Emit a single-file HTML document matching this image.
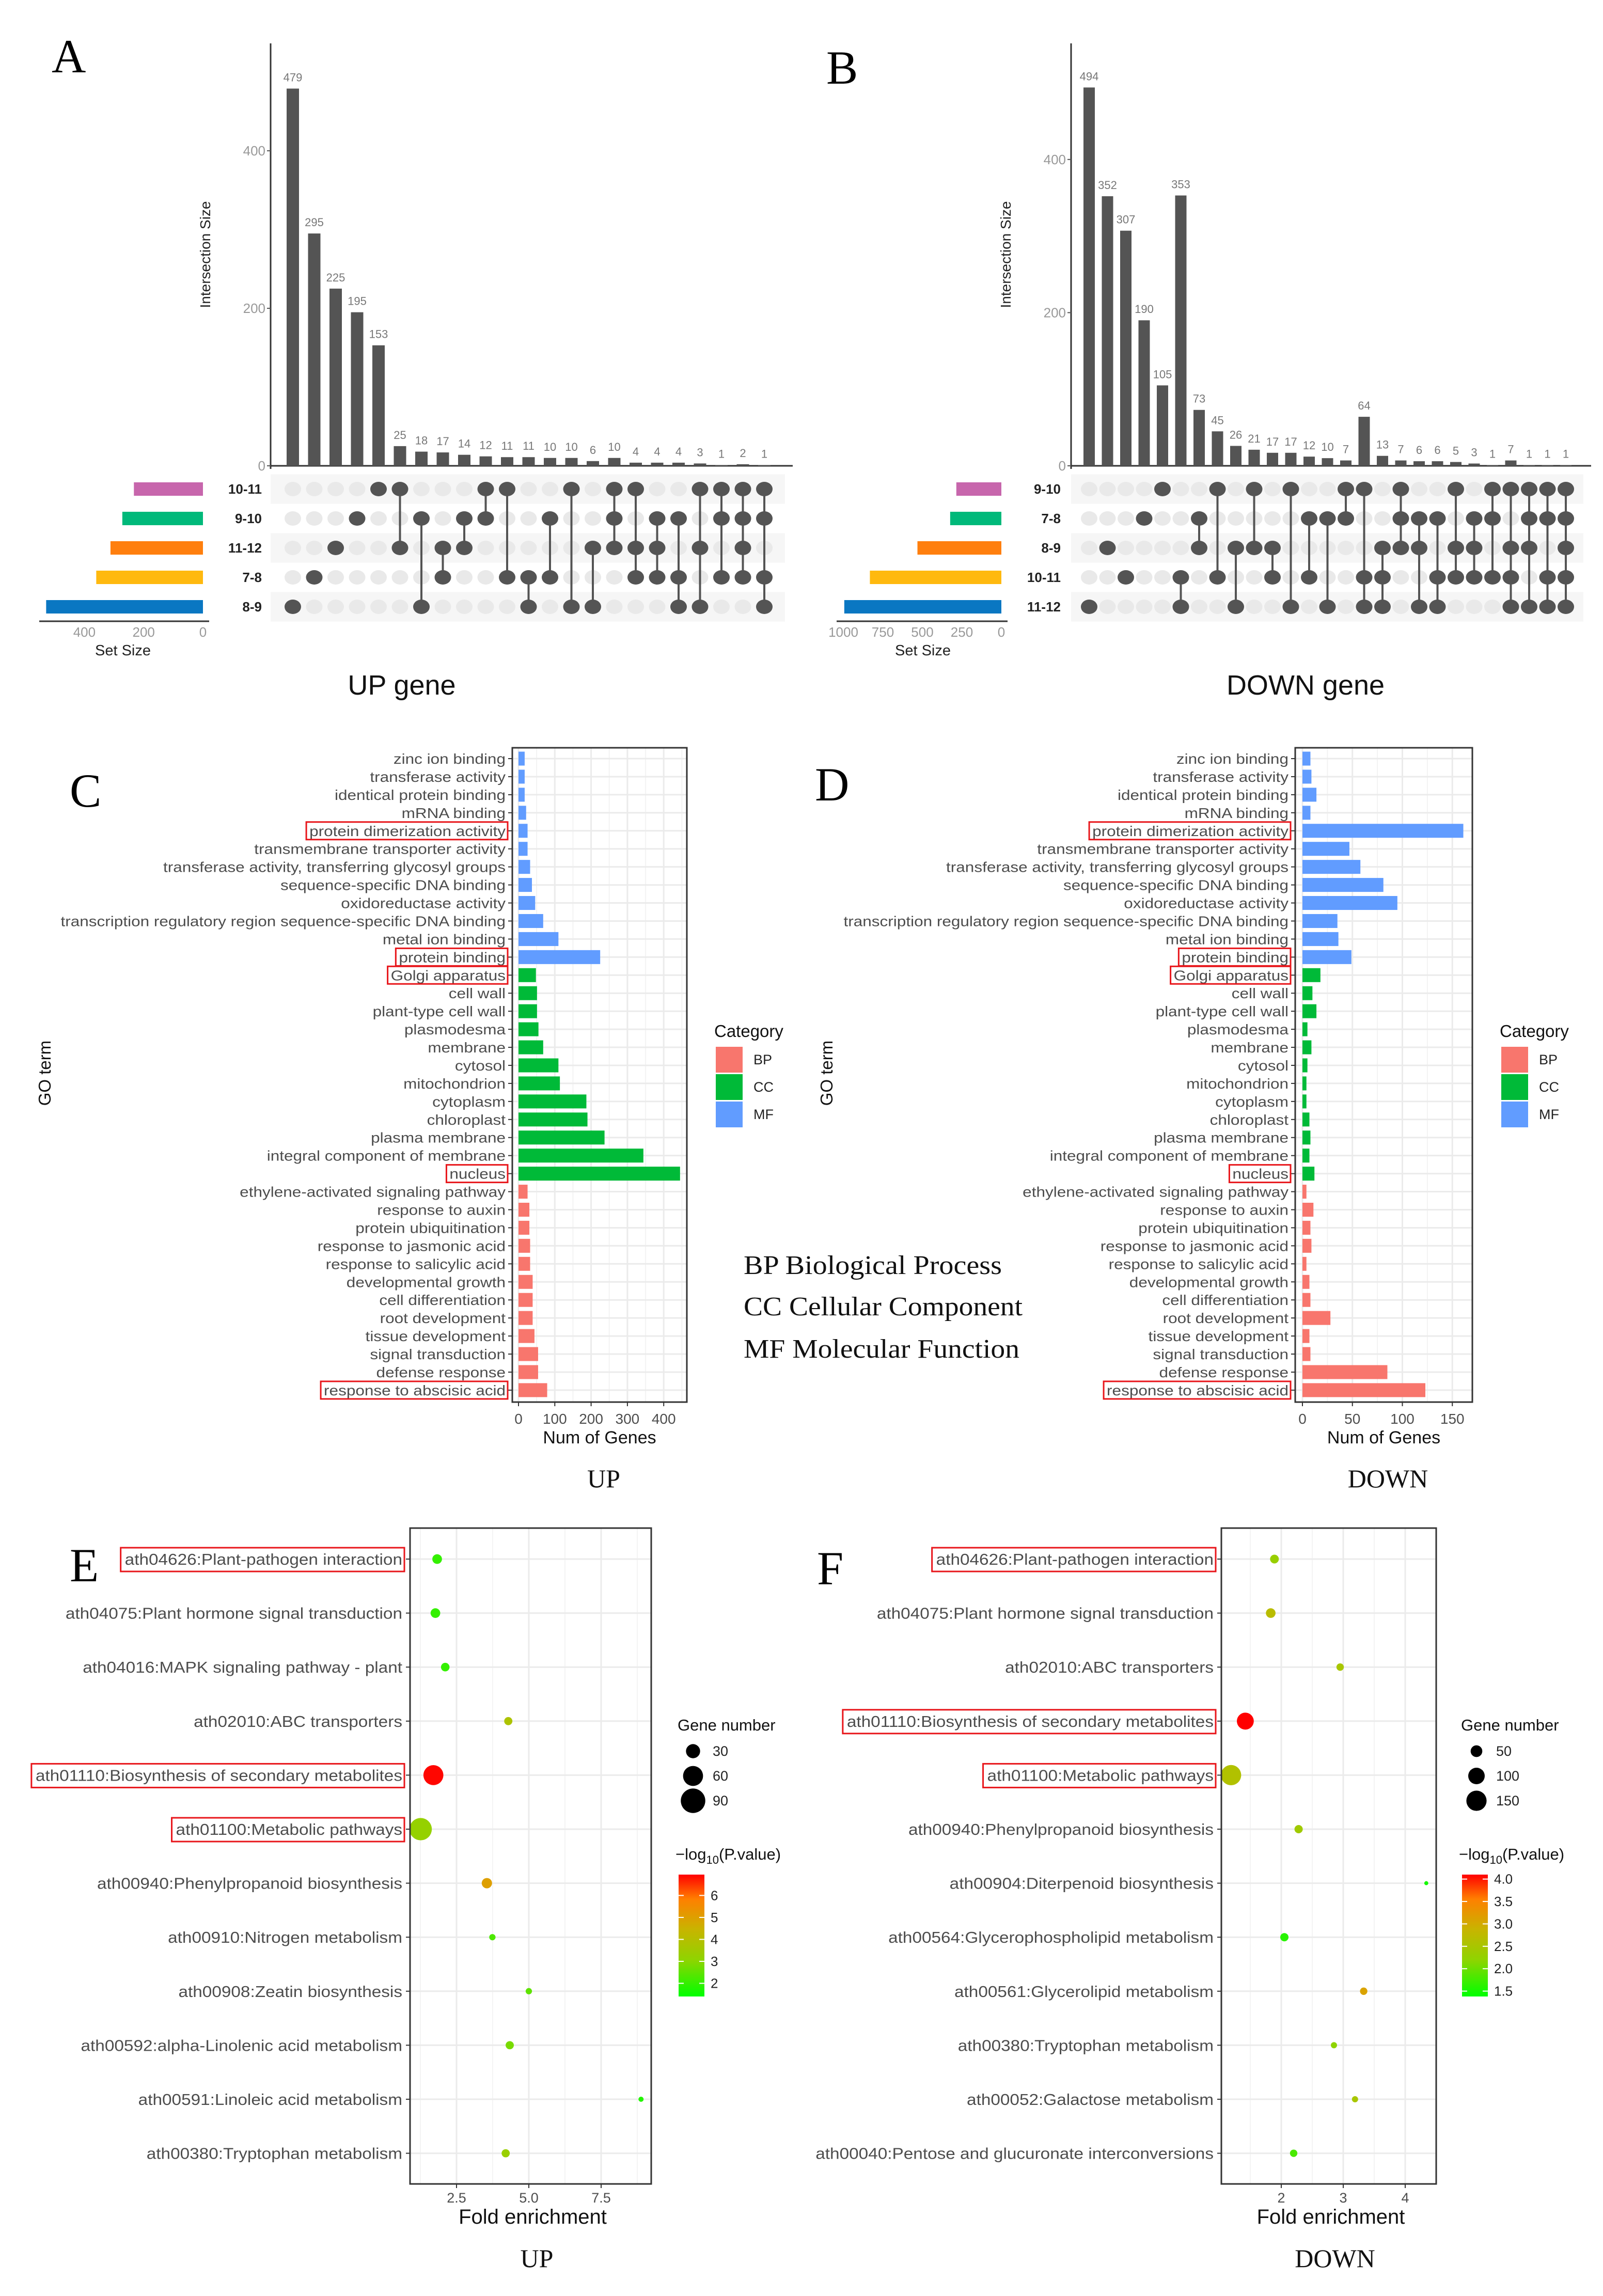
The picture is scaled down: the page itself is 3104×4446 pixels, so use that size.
<!DOCTYPE html>
<html><head><meta charset="utf-8"><style>
html,body{margin:0;padding:0;background:#fff;}
svg{display:block;font-family:"Liberation Sans",Arial,sans-serif;}
</style></head><body>
<svg id="fig" xmlns="http://www.w3.org/2000/svg" width="3104" height="4446" viewBox="0 0 3104 4446">
<defs>
<linearGradient id="gradE" x1="0" y1="1" x2="0" y2="0">
<stop offset="0" stop-color="#00ff00"/><stop offset="0.3" stop-color="#8fd400"/><stop offset="0.55" stop-color="#c8b400"/><stop offset="0.8" stop-color="#ff7f00"/><stop offset="1" stop-color="#ff0000"/>
</linearGradient>
</defs>
<rect x="0" y="0" width="3104" height="4446" fill="#fff"/>
<g id="root"></g>
</svg>
<script>
// ===== Panel A (UpSet UP) data =====
const upSetsA = ["10-11","9-10","11-12","7-8","8-9"];
const upSetSizesA = [233,272,312,360,529];
const upCountsA = [479,295,225,195,153,25,18,17,14,12,11,11,10,10,6,10,4,4,4,3,1,2,1];
const upMembersA = [[4],[3],[2],[1],[0],[0,2],[1,4],[2,3],[1,2],[0,1],[0,3],[3,4],[1,3],[0,4],[2,4],[0,1,2],[0,2,3],[1,2,3],[1,3,4],[0,2,4],[0,1,3],[0,1,2,3],[0,1,3,4]];
const upYTicksA = [0,200,400];
const upSetTicksA = [0,200,400];
// ===== Panel B (UpSet DOWN) data =====
const downSetsB = ["9-10","7-8","8-9","10-11","11-12"];
const downSetSizesB = [285,324,531,832,994];
const downCountsB = [494,352,307,190,105,353,73,45,26,21,17,17,12,10,7,64,13,7,6,6,5,3,1,7,1,1,1];
const downMembersB = [[4],[2],[3],[1],[0],[3,4],[1,2],[0,3],[2,4],[0,2],[2,3],[0,4],[1,3],[1,4],[0,1],[0,3,4],[2,3,4],[0,1,2],[1,2,4],[1,3,4],[0,2,3],[1,2,3],[0,1,3],[0,2,3,4],[0,1,2,4],[0,1,3,4],[0,1,2,3,4]];
const downYTicksB = [0,200,400];
const downSetTicksB = [0,250,500,750,1000];
// ===== GO terms (C, D) =====
const goTerms = ["zinc ion binding","transferase activity","identical protein binding","mRNA binding","protein dimerization activity","transmembrane transporter activity","transferase activity, transferring glycosyl groups","sequence-specific DNA binding","oxidoreductase activity","transcription regulatory region sequence-specific DNA binding","metal ion binding","protein binding","Golgi apparatus","cell wall","plant-type cell wall","plasmodesma","membrane","cytosol","mitochondrion","cytoplasm","chloroplast","plasma membrane","integral component of membrane","nucleus","ethylene-activated signaling pathway","response to auxin","protein ubiquitination","response to jasmonic acid","response to salicylic acid","developmental growth","cell differentiation","root development","tissue development","signal transduction","defense response","response to abscisic acid"];
const goCategory = ["MF","MF","MF","MF","MF","MF","MF","MF","MF","MF","MF","MF","CC","CC","CC","CC","CC","CC","CC","CC","CC","CC","CC","CC","BP","BP","BP","BP","BP","BP","BP","BP","BP","BP","BP","BP"];
const goHighlighted = ["protein dimerization activity","protein binding","Golgi apparatus","nucleus","response to abscisic acid"];
const goUpCounts = [17,17,17,21,25,25,32,37,46,68,110,225,48,51,51,55,68,110,114,187,190,237,344,445,25,30,30,32,32,39,39,39,44,54,54,79];
const goDownCounts = [8,9,14,8,161,47,58,81,95,35,36,49,18,10,14,5,9,5,4,4,7,8,7,12,4,11,8,9,4,7,8,28,7,8,85,123];
const goUpTicks = [0,100,200,300,400];
const goDownTicks = [0,50,100,150];
// ===== KEGG (E, F) =====
const keggUpTerms = ["ath04626:Plant-pathogen interaction","ath04075:Plant hormone signal transduction","ath04016:MAPK signaling pathway - plant","ath02010:ABC transporters","ath01110:Biosynthesis of secondary metabolites","ath01100:Metabolic pathways","ath00940:Phenylpropanoid biosynthesis","ath00910:Nitrogen metabolism","ath00908:Zeatin biosynthesis","ath00592:alpha-Linolenic acid metabolism","ath00591:Linoleic acid metabolism","ath00380:Tryptophan metabolism"];
const keggUpFold = [1.83,1.77,2.11,4.29,1.70,1.26,3.55,3.74,5.0,4.34,8.88,4.2];
const keggUpGenes = [14,14,11,10,60,75,16,6,6,10,4,10];
const keggUpLogP = [2.0,2.0,2.0,3.8,6.9,3.2,5.0,2.3,2.5,2.8,1.8,3.3];
const keggUpTicks = [2.5,5.0,7.5];
const keggUpSizeTicks = [30,60,90];
const keggUpColorTicks = [2,3,4,5,6];
const keggDownTerms = ["ath04626:Plant-pathogen interaction","ath04075:Plant hormone signal transduction","ath02010:ABC transporters","ath01110:Biosynthesis of secondary metabolites","ath01100:Metabolic pathways","ath00940:Phenylpropanoid biosynthesis","ath00904:Diterpenoid biosynthesis","ath00564:Glycerophospholipid metabolism","ath00561:Glycerolipid metabolism","ath00380:Tryptophan metabolism","ath00052:Galactose metabolism","ath00040:Pentose and glucuronate interconversions"];
const keggDownFold = [1.89,1.83,2.95,1.42,1.19,2.28,4.34,2.05,3.33,2.85,3.19,2.2];
const keggDownGenes = [28,34,20,105,150,25,6,25,20,14,14,20];
const keggDownLogP = [2.3,2.7,2.5,4.1,2.6,2.4,1.5,1.6,3.1,2.2,2.5,1.8];
const keggDownTicks = [2,3,4];
const keggDownSizeTicks = [50,100,150];
const keggDownColorTicks = ["1.5","2.0","2.5","3.0","3.5","4.0"];
const keggHighlighted = ["ath04626:Plant-pathogen interaction","ath01110:Biosynthesis of secondary metabolites","ath01100:Metabolic pathways"];

const NS="http://www.w3.org/2000/svg";
const root=document.getElementById('root');
function mk(tag,attrs,parent){const e=document.createElementNS(NS,tag);for(const k in attrs)e.setAttribute(k,attrs[k]);(parent||root).appendChild(e);return e;}
function txt(s,attrs,parent){const e=mk('text',attrs,parent);e.textContent=s;return e;}
function stretch(e,f){const w=e.getComputedTextLength()*f;e.setAttribute('textLength',w);e.setAttribute('lengthAdjust','spacingAndGlyphs');return w;}
const setColors=["#c766ac","#00b97a","#ff7f0e","#ffb90f","#0a77c2"];
const catColor={BP:"#f8766d",CC:"#00ba38",MF:"#619cff"};
const stops=[[0,[0,255,0]],[0.3,[143,212,0]],[0.55,[200,180,0]],[0.8,[255,127,0]],[1,[255,0,0]]];
function grad(t){t=Math.max(0,Math.min(1,t));for(let i=1;i<stops.length;i++){if(t<=stops[i][0]){const a=stops[i-1],b=stops[i];const f=(t-a[0])/(b[0]-a[0]);const c=a[1].map((v,j)=>Math.round(v+(b[1][j]-v)*f));return `rgb(${c[0]},${c[1]},${c[2]})`;}}return 'rgb(255,0,0)';}

// ===== UpSet drawing =====
function upset(cfg){
  const g=mk('g',{});
  
  
  const yv=v=>cfg.base-v*cfg.ys;
  const xc=i=>cfg.x0+i*cfg.dx;
  for(let r=0;r<cfg.sets.length;r++){
    if(r%2===0){const s=mk('rect',{x:cfg.ax,y:cfg.rowY0+r*cfg.rowD-cfg.rowD/2,width:cfg.mEnd-cfg.ax,height:cfg.rowD,fill:'#f6f6f6'},g);
    
    }
  }
  const ya=mk('line',{x1:cfg.ax,y1:cfg.top,x2:cfg.ax,y2:cfg.base+6,stroke:'#333','stroke-width':3},g);
  
  
  const xa=mk('line',{x1:cfg.ax,y1:cfg.base,x2:cfg.mEnd+15,y2:cfg.base,stroke:'#333','stroke-width':3},g);
  
  
  cfg.yTicks.forEach(t=>{
    const tk=mk('line',{x1:cfg.ax-7,y1:yv(t),x2:cfg.ax,y2:yv(t),stroke:'#555','stroke-width':2},g);
    
    
    const tl=txt(String(t),{x:cfg.ax-10,y:yv(t)+9,'text-anchor':'end','font-size':26,fill:'#999'},g);
    
    
  });
  const yt=txt('Intersection Size',{x:0,y:0,'text-anchor':'middle','font-size':28,fill:'#222',transform:`translate(${cfg.ax-117},${(cfg.top+cfg.base)/2}) rotate(-90)`},g);
  
  
  cfg.counts.forEach((v,i)=>{
    const b=mk('rect',{x:xc(i)-cfg.bw/2,y:yv(v),width:cfg.bw,height:v*cfg.ys,fill:'#545454'},g);
    
    
    const l=txt(String(v),{x:xc(i),y:yv(v)-14,'text-anchor':'middle','font-size':22,fill:'#777'},g);
    
    
  });
  cfg.members.forEach((m,i)=>{
    for(let r=0;r<cfg.sets.length;r++){
      if(m.indexOf(r)<0){const d=mk('ellipse',{cx:xc(i),cy:cfg.rowY0+r*cfg.rowD,rx:16,ry:14,fill:'#e9e9e9'},g);
      
      }
    }
    const mn=Math.min(...m),mx=Math.max(...m);
    if(mx>mn){const ln=mk('line',{x1:xc(i),y1:cfg.rowY0+mn*cfg.rowD,x2:xc(i),y2:cfg.rowY0+mx*cfg.rowD,stroke:'#545454','stroke-width':4},g);
    
    }
    m.forEach(r=>{const d=mk('ellipse',{cx:xc(i),cy:cfg.rowY0+r*cfg.rowD,rx:16,ry:14,fill:'#545454'},g);
      
      });
  });
  cfg.sets.forEach((s,r)=>{
    const y=cfg.rowY0+r*cfg.rowD;
    const w=cfg.setSizes[r]*cfg.ss;
    const b=mk('rect',{x:cfg.s0-w,y:y-13,width:w,height:26,fill:setColors[r]},g);
    
    
    const l=txt(s,{x:cfg.nameX,y:y+9,'text-anchor':'end','font-size':26,'font-weight':'bold',fill:'#222'},g);
    
    
  });
  const sy=cfg.rowY0+4*cfg.rowD+28;
  const sa=mk('line',{x1:cfg.sAxL,y1:sy,x2:cfg.s0+12,y2:sy,stroke:'#333','stroke-width':3},g);
  
  
  cfg.setTicks.forEach(t=>{
    const tl=txt(String(t),{x:cfg.s0-t*cfg.ss,y:sy+30,'text-anchor':'middle','font-size':26,fill:'#999'},g);
    
    
  });
  const st=txt('Set Size',{x:cfg.setTitleX,y:sy+66,'text-anchor':'middle','font-size':29,fill:'#222'},g);
  
  
  const tt=txt(cfg.title,{x:cfg.titleX,y:1345,'text-anchor':'middle','font-size':54,fill:'#111'},g);
  
  
}
upset({name:'upset-up-chart',sets:upSetsA,setSizes:upSetSizesA,counts:upCountsA,members:upMembersA,yTicks:upYTicksA,setTicks:upSetTicksA,
  ax:524,top:84,base:902,ys:1.525,x0:567,dx:41.5,bw:24,mEnd:1520,rowY0:947,rowD:57,s0:393,ss:0.574,sAxL:76,nameX:507,setTitleX:238,title:'UP gene',titleX:778});
upset({name:'upset-down-chart',sets:downSetsB,setSizes:downSetSizesB,counts:downCountsB,members:downMembersB,yTicks:downYTicksB,setTicks:downSetTicksB,
  ax:2074,top:84,base:902,ys:1.483,x0:2109,dx:35.5,bw:22,mEnd:3066,rowY0:947,rowD:57,s0:1939,ss:0.306,sAxL:1620,nameX:2054,setTitleX:1787,title:'DOWN gene',titleX:2528});

// ===== GO bar chart =====
function goChart(cfg){
  const g=mk('g',{});
  
  
  const xv=v=>cfg.x0+v*cfg.xs;
  const yr=i=>cfg.y0+i*cfg.dy;
  const bg=mk('rect',{x:cfg.bx,y:cfg.by,width:cfg.bw,height:cfg.bh,fill:'#fff'},g);
  
  
  for(let k=0;k<cfg.ticks.length;k++){
    const t=cfg.ticks[k];
    const gl=mk('line',{x1:xv(t),y1:cfg.by,x2:xv(t),y2:cfg.by+cfg.bh,stroke:'#ebebeb','stroke-width':3},g);
    
    
    const step=cfg.ticks[1]-cfg.ticks[0];
    const mt=t+step/2;
    if(xv(mt)<cfg.bx+cfg.bw){const ml=mk('line',{x1:xv(mt),y1:cfg.by,x2:xv(mt),y2:cfg.by+cfg.bh,stroke:'#f3f3f3','stroke-width':2},g);
    
    }
  }
  goTerms.forEach((term,i)=>{
    const hl=mk('line',{x1:cfg.bx,y1:yr(i),x2:cfg.bx+cfg.bw,y2:yr(i),stroke:'#ebebeb','stroke-width':3},g);
    
    
  });
  goTerms.forEach((term,i)=>{
    const v=cfg.values[i];
    const b=mk('rect',{x:xv(0),y:yr(i)-13.5,width:v*cfg.xs,height:27,fill:catColor[goCategory[i]]},g);
    
    
    const tk=mk('line',{x1:cfg.bx-8,y1:yr(i),x2:cfg.bx,y2:yr(i),stroke:'#333','stroke-width':2},g);
    
    
    const l=txt(term,{x:cfg.bx-13,y:yr(i)+10,'text-anchor':'end','font-size':28,fill:'#4d4d4d'},g);
    
    
    const w=stretch(l,1.125);
    if(goHighlighted.indexOf(term)>=0){
      const r=mk('rect',{x:cfg.bx-13-w-6,y:yr(i)-17,width:w+10,height:34,fill:'none',stroke:'#e8161b','stroke-width':3},g);
      
      
    }
  });
  const bx=mk('rect',{x:cfg.bx,y:cfg.by,width:cfg.bw,height:cfg.bh,fill:'none',stroke:'#333','stroke-width':3},g);
  
  
  cfg.ticks.forEach(t=>{
    const tk=mk('line',{x1:xv(t),y1:cfg.by+cfg.bh,x2:xv(t),y2:cfg.by+cfg.bh+8,stroke:'#333','stroke-width':2},g);
    
    
    const tl=txt(String(t),{x:xv(t),y:cfg.by+cfg.bh+42,'text-anchor':'middle','font-size':28,fill:'#4d4d4d'},g);
    
    
  });
  const xt=txt('Num of Genes',{x:cfg.bx+cfg.bw/2,y:cfg.by+cfg.bh+80,'text-anchor':'middle','font-size':34,fill:'#111'},g);
  
  
  const yt=txt('GO term',{x:0,y:0,'text-anchor':'middle','font-size':33,fill:'#111',transform:`translate(${cfg.ytX},2078) rotate(-90)`},g);
  
  
  const pt=txt(cfg.title,{x:cfg.bx+cfg.bw/2+8,y:2880,'text-anchor':'middle','font-size':50,'font-family':'"Liberation Serif",serif',fill:'#111'},g);
  
  
  const lt=txt('Category',{x:cfg.lx,y:2008,'font-size':33,fill:'#111'},g);
  
  
  ["BP","CC","MF"].forEach((c,k)=>{
    const y=2052+k*53;
    const kr=mk('rect',{x:cfg.lx+3,y:y-25,width:52,height:50,fill:catColor[c]},g);
    
    
    const kl=txt(c,{x:cfg.lx+76,y:y+9,'font-size':27,fill:'#222'},g);
    
    
  });
}
goChart({name:'go-up-chart',values:goUpCounts,ticks:goUpTicks,x0:1004,xs:0.703,y0:1469,dy:34.94,bx:992,by:1448,bw:338,bh:1267,title:'UP',lx:1383,ytX:98});
goChart({name:'go-down-chart',values:goDownCounts,ticks:goDownTicks,x0:2522,xs:1.935,y0:1469,dy:34.94,bx:2508,by:1448,bw:343,bh:1267,title:'DOWN',lx:2904,ytX:1612});

// Category explanation text
[["BP  Biological Process",2451,500],["CC  Cellular Component",2531,540],["MF  Molecular Function",2613,534]].forEach(d=>{
  const t=txt(d[0],{x:1440,y:d[1]+16,'font-size':52,'font-family':'"Liberation Serif",serif',fill:'#111','xml:space':'preserve',textLength:d[2],lengthAdjust:'spacingAndGlyphs'});
  
  
});

// ===== KEGG bubble chart =====
function kegg(cfg){
  const g=mk('g',{});
  
  
  const xv=v=>cfg.px0+(v-cfg.v0)*cfg.xs;
  const yr=i=>cfg.y0+i*cfg.dy;
  const rad=n=>cfg.rk*Math.sqrt(n);
  const col=p=>grad((p-cfg.cmin)/(cfg.cmax-cfg.cmin));
  const step=cfg.ticks[1]-cfg.ticks[0];
  for(let t=cfg.ticks[0]-step*2;t<=cfg.ticks[cfg.ticks.length-1]+step*2;t+=step/2){
    const x=xv(t); if(x<=cfg.bx||x>=cfg.bx+cfg.bw) continue;
    const major=Math.abs(((t-cfg.ticks[0])/step)-Math.round((t-cfg.ticks[0])/step))<1e-6;
    const gl=mk('line',{x1:x,y1:cfg.by,x2:x,y2:cfg.by+cfg.bh,stroke:major?'#ebebeb':'#f4f4f4','stroke-width':major?3:2},g);
    
    
  }
  cfg.terms.forEach((term,i)=>{
    const hl=mk('line',{x1:cfg.bx,y1:yr(i),x2:cfg.bx+cfg.bw,y2:yr(i),stroke:'#ebebeb','stroke-width':3},g);
    
    
    const tk=mk('line',{x1:cfg.bx-8,y1:yr(i),x2:cfg.bx,y2:yr(i),stroke:'#333','stroke-width':2},g);
    
    
    const l=txt(term,{x:cfg.bx-15,y:yr(i)+11,'text-anchor':'end','font-size':31,fill:'#4d4d4d'},g);
    
    
    const w=stretch(l,1.075);
    if(keggHighlighted.indexOf(term)>=0){
      const r=mk('rect',{x:cfg.bx-15-w-8,y:yr(i)-22,width:w+12,height:46,fill:'none',stroke:'#e8161b','stroke-width':3},g);
      
      
    }
  });
  cfg.terms.forEach((term,i)=>{
    const c=mk('circle',{cx:xv(cfg.fold[i]),cy:yr(i),r:rad(cfg.genes[i]),fill:col(cfg.logp[i])},g);
    
    
  });
  const bx=mk('rect',{x:cfg.bx,y:cfg.by,width:cfg.bw,height:cfg.bh,fill:'none',stroke:'#333','stroke-width':3},g);
  
  
  cfg.ticks.forEach(t=>{
    const tk=mk('line',{x1:xv(t),y1:cfg.by+cfg.bh,x2:xv(t),y2:cfg.by+cfg.bh+8,stroke:'#333','stroke-width':2},g);
    
    
    const tl=txt(cfg.tickFmt(t),{x:xv(t),y:cfg.by+cfg.bh+36,'text-anchor':'middle','font-size':27,fill:'#4d4d4d'},g);
    
    
  });
  const xt=txt('Fold enrichment',{x:cfg.bx+cfg.bw/2+4,y:cfg.by+cfg.bh+77,'text-anchor':'middle','font-size':40,fill:'#111'},g);
  
  
  const pt=txt(cfg.title,{x:cfg.bx+cfg.bw/2+12,y:4390,'text-anchor':'middle','font-size':50,'font-family':'"Liberation Serif",serif',fill:'#111'},g);
  
  
  const st=txt('Gene number',{x:cfg.lx,y:3351,'font-size':31,fill:'#111'},g);
  
  
  cfg.sizeTicks.forEach((n,k)=>{
    const y=3391+k*48;
    const c=mk('circle',{cx:cfg.lx+30,cy:y,r:rad(n),fill:'#000'},g);
    
    
    const l=txt(String(n),{x:cfg.lx+68,y:y+9,'font-size':27,fill:'#222'},g);
    
    
  });
  const ct=txt('',{x:cfg.lx-4,y:3601,'font-size':31,fill:'#111'},g);
  ct.innerHTML='<tspan>\u2212log</tspan><tspan font-size="22" dy="8">10</tspan><tspan dy="-8">(P.value)</tspan>';
  
  
  const cbTop=3630,cbBot=3866;
  const cb=mk('rect',{x:cfg.lx+2,y:cbTop,width:50,height:cbBot-cbTop,fill:'url(#gradE)'},g);
  
  
  cfg.colorTicks.forEach(t=>{
    const v=parseFloat(t);
    const y=cbBot-(v-cfg.cmin)/(cfg.cmax-cfg.cmin)*(cbBot-cbTop);
    const a=mk('line',{x1:cfg.lx+2,y1:y,x2:cfg.lx+12,y2:y,stroke:'#fff','stroke-width':2},g);
    
    
    const b=mk('line',{x1:cfg.lx+42,y1:y,x2:cfg.lx+52,y2:y,stroke:'#fff','stroke-width':2},g);
    
    
    const l=txt(String(t),{x:cfg.lx+64,y:y+9,'font-size':26,fill:'#222'},g);
    
    
  });
}
kegg({name:'kegg-up-chart',terms:keggUpTerms,fold:keggUpFold,genes:keggUpGenes,logp:keggUpLogP,ticks:keggUpTicks,sizeTicks:keggUpSizeTicks,colorTicks:keggUpColorTicks,
  px0:884,v0:2.5,xs:56,y0:3019,dy:104.6,bx:794,by:2959,bw:467,bh:1270,rk:2.5,cmin:1.4,cmax:6.95,lx:1312,title:'UP',tickFmt:t=>t.toFixed(1)});
kegg({name:'kegg-down-chart',terms:keggDownTerms,fold:keggDownFold,genes:keggDownGenes,logp:keggDownLogP,ticks:keggDownTicks,sizeTicks:keggDownSizeTicks,colorTicks:keggDownColorTicks,
  px0:2481,v0:2,xs:120,y0:3019,dy:104.6,bx:2365,by:2959,bw:416,bh:1270,rk:1.6,cmin:1.38,cmax:4.1,lx:2829,title:'DOWN',tickFmt:t=>String(t)});

// panel letters
[["A",100,140],["B",1600,162],["C",135,1562],["D",1578,1550],["E",135,3062],["F",1582,3068]].forEach(d=>{
  const t=txt(d[0],{x:d[1],y:d[2],'font-size':92,'font-family':'"Liberation Serif",serif',fill:'#000'});
  
  
});
</script>
</body></html>
